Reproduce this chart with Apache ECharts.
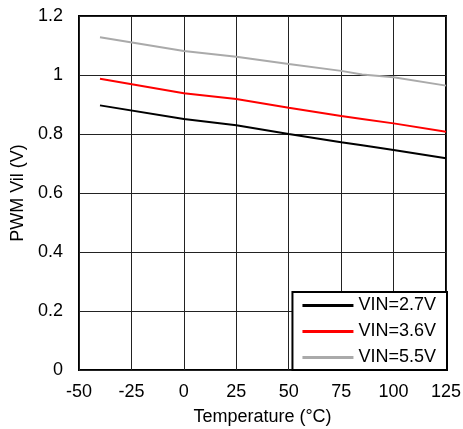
<!DOCTYPE html>
<html><head><meta charset="utf-8">
<script src="https://cdn.jsdelivr.net/npm/echarts@6/dist/echarts.min.js"></script>
<style>html,body{margin:0;padding:0;background:#fff}#c{width:463px;height:429px}</style>
</head><body><div id="c"></div>
<script>
var temps = [-40, 0, 25, 50, 75, 85, 100, 125];
var vin27 = [0.897, 0.851, 0.830, 0.800, 0.772, 0.762, 0.746, 0.718];
var vin36 = [0.987, 0.938, 0.919, 0.889, 0.861, 0.851, 0.836, 0.808];
var vin55 = [1.128, 1.081, 1.062, 1.037, 1.014, 1.002, 0.992, 0.964];
var seriesNames = ['VIN=2.7V', 'VIN=3.6V', 'VIN=5.5V'];
var xTicks = {min: -50, max: 125, step: 25};
var yTicks = {min: 0, max: 1.2, step: 0.2};

function pairs(ys){ return temps.map(function(t,i){ return [t, ys[i]]; }); }
var F = "'Liberation Sans', Arial, sans-serif";
var chart = echarts.init(document.getElementById('c'));
chart.setOption({
  animation: false,
  grid: {left: 79, right: 17, top: 16, bottom: 59, show: true, borderColor: '#000', borderWidth: 2, backgroundColor: 'transparent', containLabel: false, outerBoundsMode: 'none'},
  xAxis: {
    type: 'value', min: xTicks.min, max: xTicks.max, interval: xTicks.step,
    name: 'Temperature (°C)', nameLocation: 'middle', nameGap: 38,
    nameTextStyle: {fontFamily: F, fontSize: 18, color: '#000'},
    axisLine: {show: false}, axisTick: {show: false},
    axisLabel: {fontFamily: F, fontSize: 18, color: '#000', margin: 13},
    splitLine: {show: true, lineStyle: {color: '#222', width: 1}}
  },
  yAxis: {
    type: 'value', min: yTicks.min, max: yTicks.max, interval: yTicks.step,
    name: 'PWM Vil (V)', nameLocation: 'middle', nameGap: 42, nameRotate: 90,
    nameTextStyle: {fontFamily: F, fontSize: 18, color: '#000'},
    axisLine: {show: false}, axisTick: {show: false},
    axisLabel: {fontFamily: F, fontSize: 18, color: '#000', margin: 16},
    splitLine: {show: true, lineStyle: {color: '#222', width: 1}}
  },
  legend: {
    orient: 'vertical', right: 16, bottom: 59,
    backgroundColor: '#fff', borderColor: '#000', borderWidth: 2, borderRadius: 0,
    padding: [4, 11, 3, 10], itemWidth: 51, itemHeight: 3, itemGap: 7,
    icon: 'rect',
    textStyle: {fontFamily: F, fontSize: 18, color: '#000', lineHeight: 19},
    data: seriesNames
  },
  series: [
    {name: seriesNames[0], type: 'line', data: pairs(vin27), symbol: 'none', lineStyle: {color: '#000', width: 2}, itemStyle: {color: '#000'}},
    {name: seriesNames[1], type: 'line', data: pairs(vin36), symbol: 'none', lineStyle: {color: '#ff0000', width: 2}, itemStyle: {color: '#ff0000'}},
    {name: seriesNames[2], type: 'line', data: pairs(vin55), symbol: 'none', lineStyle: {color: '#aaaaaa', width: 2}, itemStyle: {color: '#aaaaaa'}}
  ]
});
</script></body></html>
